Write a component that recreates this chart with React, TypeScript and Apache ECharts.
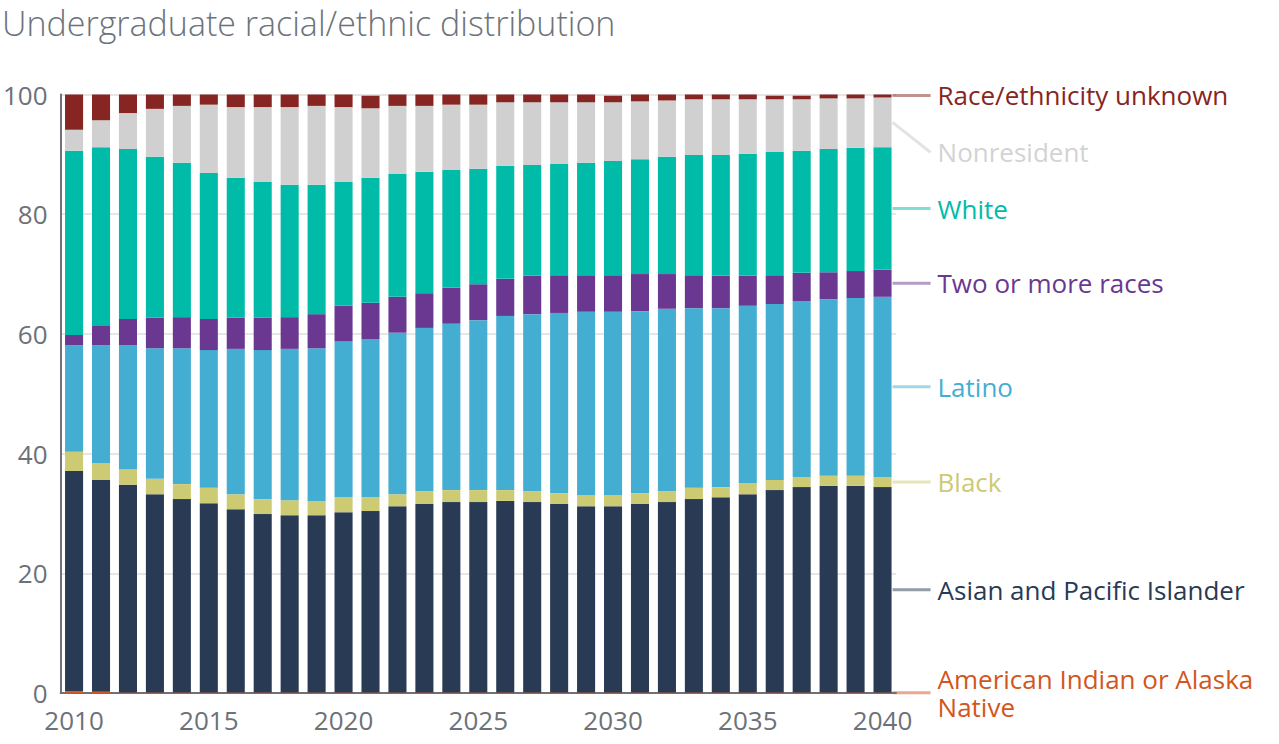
import React, { useEffect, useRef } from "react";
import * as echarts from "echarts";

// Enrollment share by group, percent of all undergraduates
const years = [
  "2010", "2011", "2012", "2013", "2014", "2015", "2016", "2017", "2018", "2019", "2020",
  "2021", "2022", "2023", "2024", "2025", "2026", "2027", "2028", "2029", "2030",
  "2031", "2032", "2033", "2034", "2035", "2036", "2037", "2038", "2039", "2040",
];

const americanIndian = [
  0.3, 0.2, 0.1, 0.1, 0.1, 0.1, 0.1, 0.1, 0.1, 0.1, 0.1,
  0.1, 0.1, 0.1, 0.1, 0.1, 0.1, 0.1, 0.1, 0.1, 0.1,
  0.1, 0.1, 0.1, 0.1, 0.1, 0.1, 0.1, 0.1, 0.1, 0.1,
];
const asianPacific = [
  36.8, 35.4, 34.7, 33.1, 32.3, 31.6, 30.6, 29.8, 29.6, 29.6, 30.1,
  30.3, 31.1, 31.5, 31.8, 31.8, 32.0, 31.8, 31.5, 31.1, 31.1,
  31.5, 31.8, 32.3, 32.6, 33.1, 33.8, 34.3, 34.5, 34.5, 34.3,
];
const black = [
  3.2, 2.8, 2.6, 2.6, 2.5, 2.6, 2.5, 2.5, 2.5, 2.4, 2.5,
  2.3, 2.0, 2.1, 2.0, 2.0, 1.8, 1.8, 1.8, 1.9, 1.9,
  1.8, 1.8, 1.9, 1.7, 1.9, 1.7, 1.7, 1.7, 1.7, 1.7,
];
const latino = [
  17.8, 19.7, 20.7, 21.8, 22.7, 23.0, 24.3, 24.9, 25.3, 25.5, 26.1,
  26.4, 27.0, 27.3, 27.8, 28.4, 29.1, 29.6, 30.1, 30.6, 30.6,
  30.4, 30.5, 30.0, 29.9, 29.6, 29.4, 29.4, 29.5, 29.7, 30.1,
];
const twoOrMore = [
  1.7, 3.2, 4.4, 5.1, 5.2, 5.2, 5.2, 5.4, 5.3, 5.7, 5.9,
  6.1, 6.0, 5.8, 6.0, 6.0, 6.2, 6.4, 6.3, 6.1, 6.1,
  6.2, 5.8, 5.5, 5.4, 5.0, 4.8, 4.7, 4.5, 4.5, 4.5,
];
const white = [
  30.8, 29.9, 28.4, 26.9, 25.8, 24.4, 23.4, 22.7, 22.1, 21.6, 20.7,
  20.9, 20.5, 20.3, 19.7, 19.3, 18.9, 18.5, 18.6, 18.8, 19.1,
  19.2, 19.6, 20.1, 20.2, 20.4, 20.6, 20.4, 20.6, 20.6, 20.5,
];
const nonresident = [
  3.5, 4.5, 6.0, 8.0, 9.5, 11.4, 11.8, 12.5, 13.0, 13.2, 12.5,
  11.6, 11.4, 11.0, 10.9, 10.7, 10.6, 10.5, 10.3, 10.1, 9.8,
  9.65, 9.4, 9.3, 9.3, 9.1, 8.8, 8.6, 8.45, 8.25, 8.3,
];
const unknown = [
  5.9, 4.3, 3.1, 2.4, 1.9, 1.9, 2.1, 2.1, 2.1, 2.1, 2.1,
  2.1, 2.1, 1.9, 1.9, 1.7, 1.5, 1.5, 1.3, 1.3, 1.1,
  1.15, 1.2, 1.0, 0.8, 0.8, 0.6, 0.6, 0.65, 0.65, 0.7,
];

const yTicks = [0, 20, 40, 60, 80, 100];

const FONT = "'Open Sans', Lato, sans-serif";
const GREY = "#6d7178";

// Stack order, bottom to top
const groups = [
  { name: "American Indian or Alaska Native", label: "American Indian or Alaska\nNative", data: americanIndian, color: "#d2561d", text: "#d2561d", line: "rgba(210,86,29,0.5)", dy: 0 },
  { name: "Asian and Pacific Islander", label: "Asian and Pacific Islander", data: asianPacific, color: "#283a54", text: "#283a54", line: "rgba(40,58,84,0.5)", dy: 0 },
  { name: "Black", label: "Black", data: black, color: "#cdca74", text: "#cdca74", line: "rgba(205,202,116,0.5)", dy: 0 },
  { name: "Latino", label: "Latino", data: latino, color: "#44aed2", text: "#44aed2", line: "rgba(68,174,210,0.5)", dy: 0 },
  { name: "Two or more races", label: "Two or more races", data: twoOrMore, color: "#6a3791", text: "#6a3791", line: "rgba(106,55,145,0.5)", dy: 0 },
  { name: "White", label: "White", data: white, color: "#00bba8", text: "#00bba8", line: "rgba(0,187,168,0.5)", dy: 0 },
  { name: "Nonresident", label: "Nonresident", data: nonresident, color: "#d0d0d0", text: "#d3d3d3", line: "rgba(208,208,208,0.6)", dy: 30 },
  { name: "Race/ethnicity unknown", label: "Race/ethnicity unknown", data: unknown, color: "#862522", text: "#862522", line: "rgba(134,37,34,0.5)", dy: 0 },
];

const BAR_GAP = 0.33;

function buildLabels(chart: echarts.ECharts) {
  const last = years.length - 1;
  const p0 = chart.convertToPixel({ gridIndex: 0 }, [0, 0]) as number[];
  const p1 = chart.convertToPixel({ gridIndex: 0 }, [1, 0]) as number[];
  const band = p1[0] - p0[0];
  const elements: any[] = [];
  let cum = 0;
  groups.forEach((g) => {
    const v = g.data[last];
    const mid = cum + v / 2;
    cum += v;
    const [cx, cy] = chart.convertToPixel({ gridIndex: 0 }, [last, mid]) as number[];
    const x0 = cx + (band * (1 - BAR_GAP)) / 2 + 1;
    const x1 = x0 + 38;
    elements.push({
      type: "line",
      shape: { x1: x0, y1: cy, x2: x1, y2: cy + g.dy },
      style: { stroke: g.line, lineWidth: 3 },
      silent: true,
    });
    elements.push({
      type: "text",
      x: x1 + 7,
      y: cy + g.dy,
      style: {
        text: g.label,
        fill: g.text,
        font: `26px ${FONT}`,
        verticalAlign: "middle",
        align: "left",
        lineHeight: 28,
      },
      silent: true,
    });
  });
  return elements;
}

export default function App() {
  const ref = useRef<HTMLDivElement>(null);

  useEffect(() => {
    const el = ref.current;
    if (!el) return;
    const chart = echarts.init(el, null, { renderer: "svg" });
    chart.setOption({
      animation: false,
      backgroundColor: "#ffffff",
      title: {
        text: "Undergraduate racial/ethnic distribution",
        left: 2,
        top: 0,
        padding: 0,
        textStyle: {
          fontFamily: FONT,
          fontSize: 34,
          fontWeight: 300,
          color: "#6b737c",
          lineHeight: 46,
        },
      },
      grid: { left: 60, right: 383, top: 94.5, bottom: 51, containLabel: false },
      xAxis: {
        type: "category",
        data: years,
        axisLine: { show: true, lineStyle: { color: "#6e7177", width: 2 } },
        axisTick: { show: false },
        axisLabel: {
          interval: 4,
          margin: 14,
          fontFamily: FONT,
          fontSize: 26,
          color: GREY,
        },
        splitLine: { show: false },
      },
      yAxis: {
        type: "value",
        min: yTicks[0],
        max: yTicks[yTicks.length - 1],
        interval: yTicks[1] - yTicks[0],
        axisLine: { show: true, lineStyle: { color: "#6e7177", width: 2 } },
        axisTick: { show: false },
        axisLabel: { margin: 13, fontFamily: FONT, fontSize: 26, color: GREY },
        splitLine: { show: true, lineStyle: { color: "#e6e6e6", width: 2 } },
      },
      series: groups.map((g) => ({
        name: g.name,
        type: "bar",
        stack: "total",
        data: g.data,
        barCategoryGap: `${BAR_GAP * 100}%`,
        itemStyle: { color: g.color },
        emphasis: { disabled: true },
      })),
    });
    chart.setOption({ graphic: buildLabels(chart) });
    return () => chart.dispose();
  }, []);

  return (
    <div
      ref={ref}
      style={{ position: "fixed", left: 0, top: 0, width: 1279, height: 744 }}
    />
  );
}
